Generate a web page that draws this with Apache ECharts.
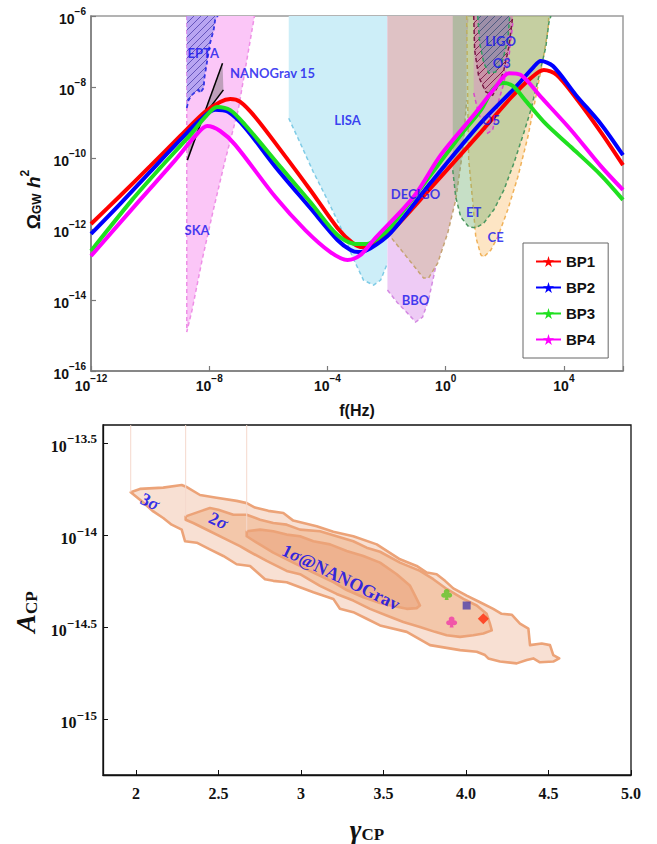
<!DOCTYPE html>
<html>
<head>
<meta charset="utf-8">
<title>GW spectra of BP1-BP4 and NANOGrav posterior</title>
<script src="https://cdn.jsdelivr.net/npm/echarts@6.0.0/dist/echarts.min.js"></script>
<style>
  html, body { margin: 0; padding: 0; background: #fff; }
  #chart { width: 657px; height: 844px; }
</style>
</head>
<body>
<div id="chart"></div>
<script>
// ---------- upper panel: log10(f / Hz) vs log10(Omega_GW h^2) ----------
const bp1LogF = [-12, -11.02, -10.0, -8.98, -8.14, -7.63, -7.29, -6.95, -6.44, -5.59, -4.58, -3.66, -3.15, -2.81, -2.47, -1.86, -0.51, 1.19, 2.20, 2.88, 3.32, 3.76, 4.41, 5.25, 6]
const bp1LogOmega = [-11.86, -11.07, -10.23, -9.38, -8.70, -8.42, -8.34, -8.42, -8.85, -9.77, -10.90, -11.97, -12.39, -12.51, -12.45, -12.08, -10.85, -9.27, -8.31, -7.75, -7.52, -7.66, -8.31, -9.27, -10.20]

const bp2LogF = [-12, -11.02, -10.0, -8.98, -8.31, -7.80, -7.36, -6.78, -5.76, -4.58, -3.66, -3.22, -2.95, -2.54, -1.86, -0.51, 1.19, 2.37, 2.95, 3.22, 3.63, 4.41, 5.25, 6]
const bp2LogOmega = [-12.14, -11.30, -10.39, -9.49, -8.93, -8.64, -8.70, -9.15, -10.25, -11.41, -12.31, -12.59, -12.65, -12.54, -12.11, -10.70, -9.01, -8.0, -7.46, -7.27, -7.41, -8.23, -9.04, -9.92]

const bp3LogF = [-12, -10.61, -9.66, -8.64, -8.14, -7.73, -7.29, -6.78, -5.59, -4.58, -3.66, -3.05, -2.68, -2.27, -1.86, -0.51, 0.51, 1.19, 1.59, 1.93, 2.27, 2.71, 3.39, 4.24, 5.25, 6]
const bp3LogOmega = [-12.62, -11.18, -10.28, -9.35, -8.85, -8.56, -8.65, -9.07, -10.25, -11.24, -12.17, -12.42, -12.42, -12.25, -11.94, -10.48, -9.35, -8.65, -8.08, -7.89, -7.97, -8.39, -9.04, -9.69, -10.48, -11.18]

const bp4LogF = [-12, -10.34, -9.15, -8.47, -8.07, -7.63, -7.12, -5.76, -4.75, -3.90, -3.32, -2.88, -2.44, -1.09, -0.17, 0.95, 1.69, 2.14, 2.54, 3.22, 4.24, 5.25, 6]
const bp4LogOmega = [-12.76, -11.18, -10.06, -9.38, -9.10, -9.24, -9.63, -11.10, -12.03, -12.65, -12.87, -12.73, -12.31, -11.10, -9.92, -8.79, -8.0, -7.61, -7.66, -8.28, -9.21, -10.23, -10.90]

// detector / PTA sensitivity regions, [log10 f, log10 Omega] vertices
const skaRegion = [[-8.76, -6], [-8.76, -14.9], [-8.58, -14.28], [-8.24, -12.87], [-7.86, -11.46], [-7.46, -10.06], [-7.02, -8.65], [-6.47, -6]]
const eptaRegion = [[-8.76, -6], [-8.76, -8.59], [-8.70, -8.37], [-8.59, -8.23], [-8.47, -8.14], [-8.36, -8.08], [-8.31, -8.17], [-8.19, -8.03], [-8.16, -7.72], [-8.08, -7.32], [-7.97, -6.76], [-7.85, -6.39], [-7.80, -6.11], [-7.71, -6]]
const nanogravLineA = [[-8.74, -10.06], [-7.55, -7.33]]
const nanogravLineB = [[-8.70, -9.38], [-7.52, -8.08]]
const lisaRegion = [[-5.31, -6], [-5.31, -8.88], [-4.92, -9.58], [-4.48, -10.39], [-4.0, -11.18], [-3.56, -11.94], [-3.15, -12.79], [-2.78, -13.44], [-2.44, -13.58], [-2.20, -13.44], [-1.97, -12.96], [-1.97, -6]]
const bboRegion = [[-1.97, -6], [-1.97, -13.72], [-1.63, -14.08], [-1.29, -14.37], [-1.02, -14.62], [-0.78, -14.48], [-0.58, -14.0], [-0.41, -13.35], [-0.17, -12.39], [0.07, -11.66], [0.27, -10.48], [0.51, -9.21], [0.75, -6]]
const decigoRegion = [[-1.97, -6], [-1.97, -12.11], [-1.42, -12.68], [-0.75, -13.38], [-0.58, -13.38], [-0.27, -12.96], [0.07, -12.11], [0.34, -11.18], [0.58, -9.77], [0.71, -8.37], [0.71, -6]]
const ceRegion = [[0.71, -6], [0.75, -8.65], [0.78, -10.06], [0.92, -11.27], [1.02, -12.23], [1.19, -12.73], [1.29, -12.79], [1.53, -12.59], [1.76, -12.23], [2.10, -11.46], [2.44, -10.54], [2.78, -9.41], [3.05, -8.28], [3.29, -7.24], [3.46, -6.39], [3.49, -6]]
const etRegion = [[0.24, -6], [0.24, -10.34], [0.34, -11.10], [0.51, -11.66], [0.78, -11.94], [1.02, -11.97], [1.29, -11.83], [1.63, -11.46], [1.97, -10.90], [2.31, -10.14], [2.64, -9.30], [2.88, -8.65], [3.15, -7.72], [3.39, -6.87], [3.49, -6.20], [3.56, -6]]
const ligoO5Region = [[0.95, -6], [0.95, -8.17], [1.085, -8.65], [1.25, -9.07], [1.42, -9.30], [1.59, -9.21], [1.69, -8.85], [1.80, -8.37], [1.97, -7.89], [2.14, -7.15], [2.27, -6.2], [2.27, -6]]
const ligoO3Region = [[0.95, -6], [0.98, -6.96], [1.12, -7.72], [1.36, -8.14], [1.59, -8.23], [1.80, -7.94], [1.97, -7.52], [2.14, -6.87], [2.24, -6.2], [2.27, -6]]
const ligoInnerRegion = [[1.085, -6], [1.15, -6.76], [1.29, -7.32], [1.46, -7.61], [1.69, -7.58], [1.93, -7.24], [2.10, -6.68], [2.17, -6]]

const detectorNames = ['EPTA', 'NANOGrav 15', 'SKA', 'LISA', 'DECIGO', 'BBO', 'ET', 'CE', 'LIGO', 'O3', 'O5']
const detectorLabelF = [-8.20, -5.86, -8.41, -3.32, -1.02, -1.02, 0.95, 1.69, 1.86, 1.90, 1.53]
const detectorLabelOmega = [-7.04, -7.61, -12.03, -8.93, -11.01, -14.0, -11.52, -12.23, -6.70, -7.32, -8.93]

// ---------- lower panel: gamma_CP vs log10(A_CP) ----------
const sigma3Region = [[1.968, -13.765], [2.024, -13.747], [2.165, -13.740], [2.277, -13.726], [2.303, -13.735], [2.388, -13.780], [2.479, -13.794], [2.610, -13.812], [2.671, -13.824], [2.721, -13.848], [2.802, -13.866], [2.893, -13.878], [2.953, -13.919], [3.095, -13.950], [3.196, -13.980], [3.317, -14.004], [3.459, -14.048], [3.600, -14.129], [3.701, -14.165], [3.762, -14.201], [3.822, -14.210], [3.873, -14.246], [3.923, -14.287], [4.004, -14.326], [4.085, -14.362], [4.165, -14.398], [4.216, -14.425], [4.277, -14.430], [4.327, -14.478], [4.378, -14.505], [4.388, -14.595], [4.459, -14.586], [4.509, -14.595], [4.529, -14.649], [4.565, -14.667], [4.529, -14.684], [4.448, -14.688], [4.408, -14.667], [4.368, -14.676], [4.307, -14.694], [4.206, -14.684], [4.135, -14.667], [4.115, -14.649], [4.065, -14.631], [3.964, -14.622], [3.782, -14.595], [3.641, -14.523], [3.479, -14.488], [3.398, -14.452], [3.317, -14.416], [3.236, -14.398], [3.196, -14.344], [3.075, -14.308], [2.994, -14.281], [2.913, -14.254], [2.832, -14.246], [2.782, -14.237], [2.691, -14.165], [2.610, -14.156], [2.529, -14.111], [2.448, -14.075], [2.368, -14.039], [2.297, -14.031], [2.277, -13.968], [2.216, -13.941], [2.165, -13.905], [2.105, -13.869], [2.024, -13.806]]
const sigma2Region = [[2.301, -13.896], [2.388, -13.869], [2.448, -13.851], [2.499, -13.860], [2.590, -13.887], [2.671, -13.887], [2.752, -13.914], [2.832, -13.932], [2.913, -13.941], [2.994, -13.968], [3.115, -13.977], [3.216, -14.004], [3.317, -14.031], [3.398, -14.066], [3.479, -14.088], [3.600, -14.147], [3.721, -14.192], [3.802, -14.237], [3.883, -14.290], [3.984, -14.344], [4.065, -14.380], [4.125, -14.425], [4.145, -14.478], [4.156, -14.515], [4.105, -14.532], [4.044, -14.541], [3.964, -14.550], [3.883, -14.541], [3.812, -14.523], [3.721, -14.496], [3.620, -14.469], [3.519, -14.434], [3.418, -14.398], [3.317, -14.353], [3.216, -14.317], [3.115, -14.273], [2.994, -14.210], [2.913, -14.192], [2.792, -14.138], [2.681, -14.084], [2.630, -14.058], [2.550, -14.022], [2.448, -13.977], [2.347, -13.932], [2.301, -13.914]]
const sigma1Region = [[2.671, -13.977], [2.752, -13.968], [2.832, -13.977], [2.913, -13.995], [2.994, -14.004], [3.075, -14.031], [3.176, -14.048], [3.277, -14.084], [3.378, -14.111], [3.479, -14.147], [3.580, -14.210], [3.661, -14.273], [3.691, -14.326], [3.721, -14.380], [3.701, -14.394], [3.641, -14.398], [3.559, -14.383], [3.479, -14.366], [3.378, -14.335], [3.277, -14.296], [3.196, -14.253], [3.075, -14.201], [2.953, -14.147], [2.832, -14.093], [2.732, -14.039], [2.671, -14.004]]
// faint vertical guides where each contour starts
const guideGamma = [1.968, 2.301, 2.671]
const guideLogAEnd = [-13.765, -13.896, -13.977]

const bpNames = ['BP1', 'BP2', 'BP3', 'BP4']
const bpGamma = [4.105, 4.004, 3.883, 3.913]
const bpLogA = [-14.452, -14.380, -14.320, -14.470]

const bottomXTicks = [2, 2.5, 3, 3.5, 4, 4.5, 5]
const bottomXTickText = ['2', '2.5', '3', '3.5', '4.0', '4.5', '5.0']
const bottomYTicks = [-15, -14.5, -14, -13.5]

const sigmaLabelText = ['{n|3}{s|σ}', '{n|2}{s|σ}', '{n|1}{s|σ}{n|@NANOGrav}']
const sigmaLabelGamma = [2.085, 2.499, 3.242]
const sigmaLabelLogA = [-13.816, -13.919, -14.226]

const SANS = 'Liberation Sans, Arial, sans-serif'
const SERIF = 'Liberation Serif, Times New Roman, serif'
const STAR = 'path://M50 0 L61 35 L98 35 L68 57 L79 91 L50 70 L21 91 L32 57 L2 35 L39 35 Z'
// club suit: three overlapping lobes and a flared stem
const CLUB = 'path://M30 28 C30 17 39 8 50 8 C61 8 70 17 70 28 C70 39 61 48 50 48 C39 48 30 39 30 28 Z '
  + 'M12 58 C12 47 21 38 32 38 C43 38 52 47 52 58 C52 69 43 78 32 78 C21 78 12 69 12 58 Z '
  + 'M48 58 C48 47 57 38 68 38 C79 38 88 47 88 58 C88 69 79 78 68 78 C57 78 48 69 48 58 Z '
  + 'M45 52 L55 52 L64 96 L36 96 Z'

function zip(a, b) {
  return a.map((v, i) => [v, b[i]])
}

function hatch(bg, line) {
  const c = document.createElement('canvas')
  c.width = 7
  c.height = 7
  const g = c.getContext('2d')
  g.fillStyle = bg
  g.fillRect(0, 0, 7, 7)
  g.strokeStyle = line
  g.lineWidth = 0.9
  g.beginPath()
  g.moveTo(0, 7); g.lineTo(7, 0)
  g.moveTo(-1, 1); g.lineTo(1, -1)
  g.moveTo(6, 8); g.lineTo(8, 6)
  g.stroke()
  return { image: c, repeat: 'repeat', imageWidth: 7, imageHeight: 7 }
}

// one filled region; dashed outline along pts[from..to) unless closed
function area(pts, st, gi) {
  gi = gi || 0
  return {
    type: 'custom',
    xAxisIndex: gi,
    yAxisIndex: gi,
    silent: true,
    clip: true,
    data: [pts[0]],
    renderItem: function (params, api) {
      const p = pts.map(v => api.coord(v))
      const kids = [{
        type: 'polygon',
        shape: { points: p },
        style: { fill: st.fill, stroke: st.closed ? st.stroke : null, lineWidth: st.width || 1.5, lineJoin: 'round' },
      }]
      if (st.stroke && !st.closed) {
        kids.push({
          type: 'polyline',
          shape: { points: p.slice(st.from || 0, st.to == null ? p.length : st.to) },
          style: { fill: 'none', stroke: st.stroke, lineWidth: st.width || 1.5, lineDash: [4, 3] },
        })
      }
      return { type: 'group', children: kids }
    },
  }
}

function pow10(v) {
  const e = (v < 0 ? '−' : '') + Math.abs(v)
  return '{b|10}{e|' + e + '}'
}

function richPow(font, big, small) {
  return {
    b: { fontFamily: font, fontWeight: 'bold', fontSize: big, color: '#111', lineHeight: big + 6, verticalAlign: 'bottom' },
    e: { fontFamily: font, fontWeight: 'bold', fontSize: small, color: '#111', lineHeight: small + 2, verticalAlign: 'top' },
  }
}

const bpColors = ['#ff0000', '#0000ff', '#1fe01f', '#ff00ff']
const bpData = [zip(bp1LogF, bp1LogOmega), zip(bp2LogF, bp2LogOmega), zip(bp3LogF, bp3LogOmega), zip(bp4LogF, bp4LogOmega)]

const series = [
  area(skaRegion, { fill: '#fbc6f7', stroke: '#ee90e6' }),
  area(eptaRegion, { fill: hatch('#b8a5f2', '#5b4cb5'), stroke: '#3535e6', from: 1, width: 1.8 }),
  {
    type: 'custom',
    silent: true,
    clip: true,
    data: [nanogravLineA[0]],
    renderItem: function (params, api) {
      const a = nanogravLineA.map(v => api.coord(v))
      const b = nanogravLineB.map(v => api.coord(v))
      return {
        type: 'group',
        children: [
          { type: 'polygon', shape: { points: [a[0], a[1], b[1], b[0]] }, style: { fill: 'rgba(105,105,105,0.42)' } },
          { type: 'polyline', shape: { points: a }, style: { fill: 'none', stroke: '#000', lineWidth: 1.5 } },
          { type: 'polyline', shape: { points: b }, style: { fill: 'none', stroke: '#000', lineWidth: 1.5 } },
        ],
      }
    },
  },
  area(lisaRegion, { fill: '#cdeef8', stroke: '#7fcbe6', from: 1, to: lisaRegion.length - 1 }),
  area(bboRegion, { fill: '#eecbf5', stroke: '#d48ae2', from: 1 }),
  area(decigoRegion, { fill: '#dfc2c5', stroke: '#c6a373', from: 1, to: decigoRegion.length - 1 }),
  area(ceRegion, { fill: 'rgba(252,203,138,0.5)', stroke: '#f0b25a' }),
  area(etRegion, { fill: 'rgba(105,172,105,0.38)', stroke: '#4c9860', from: 1 }),
  area(ligoO5Region, { fill: 'rgba(222,138,205,0.45)', stroke: '#d848cc', from: 1, to: ligoO5Region.length - 1 }),
  area(ligoO3Region, { fill: hatch('rgba(196,112,150,0.45)', '#7a1845'), stroke: '#7a1845' }),
  area(ligoInnerRegion, { fill: hatch('rgba(120,138,172,0.55)', '#4a5a80'), stroke: '#2f9e62' }),
]

bpNames.forEach((name, i) => {
  series.push({
    name: name,
    type: 'line',
    data: bpData[i],
    smooth: 0.3,
    symbol: STAR,
    symbolSize: 10,
    showSymbol: false,
    lineStyle: { color: bpColors[i], width: 4 },
    itemStyle: { color: bpColors[i] },
    silent: true,
    z: 3,
  })
})

series.push({
  type: 'scatter',
  symbolSize: 0.1,
  silent: true,
  z: 4,
  itemStyle: { color: 'transparent' },
  label: {
    show: true,
    position: 'inside',
    formatter: '{b}',
    color: '#1212ee',
    fontFamily: 'Lato, Open Sans, sans-serif',
    fontWeight: 'bold',
    fontSize: 13,
  },
  data: detectorNames.map((n, i) => ({ name: n, value: [detectorLabelF[i], detectorLabelOmega[i]] })),
})

// lower panel
guideGamma.forEach((g, i) => {
  series.push({
    type: 'line',
    xAxisIndex: 1,
    yAxisIndex: 1,
    silent: true,
    symbol: 'none',
    lineStyle: { color: '#f5d8cc', width: 1 },
    data: [[g, -13.4], [g, guideLogAEnd[i]]],
  })
})
series.push(area(sigma3Region, { fill: '#f8e0d3', stroke: '#eca378', closed: true, width: 2.6 }, 1))
series.push(area(sigma2Region, { fill: '#f3c7aa', stroke: '#eca378', closed: true, width: 2.6 }, 1))
series.push(area(sigma1Region, { fill: '#eeb28f', stroke: '#eca378', closed: true, width: 2.6 }, 1))

const bpMarkers = [
  { symbol: 'diamond', size: 11, color: '#ff2a0a' },
  { symbol: 'rect', size: 8, color: 'rgba(50,40,170,0.85)' },
  { symbol: CLUB, size: 11, color: '#5fc425' },
  { symbol: CLUB, size: 11, color: '#f03aa8' },
]
bpNames.forEach((name, i) => {
  series.push({
    type: 'scatter',
    xAxisIndex: 1,
    yAxisIndex: 1,
    silent: true,
    z: 5,
    symbol: bpMarkers[i].symbol,
    symbolSize: bpMarkers[i].size,
    itemStyle: { color: bpMarkers[i].color },
    data: [[bpGamma[i], bpLogA[i]]],
  })
})

series.push({
  type: 'scatter',
  xAxisIndex: 1,
  yAxisIndex: 1,
  symbolSize: 0.1,
  silent: true,
  z: 6,
  itemStyle: { color: 'transparent' },
  label: {
    show: true,
    position: 'inside',
    rotate: -26,
    formatter: '{b}',
    rich: {
      n: { fontFamily: SERIF, fontWeight: 'bold', fontSize: 18, color: '#0000ee' },
      s: { fontFamily: SERIF, fontWeight: 'bold', fontStyle: 'italic', fontSize: 18, color: '#0000ee' },
    },
  },
  data: sigmaLabelText.map((t, i) => ({ name: t, value: [sigmaLabelGamma[i], sigmaLabelLogA[i]] })),
})

const chart = echarts.init(document.getElementById('chart'), null, { renderer: 'svg' })

chart.setOption({
  animation: false,
  backgroundColor: '#fff',
  grid: [
    { left: 91, top: 16, width: 532, height: 355, show: true, borderColor: '#9a9a9a', borderWidth: 1.5, backgroundColor: 'transparent' },
    { left: 103, top: 425, width: 528, height: 352, show: true, borderColor: '#111', borderWidth: 1.3, backgroundColor: 'transparent' },
  ],
  legend: {
    data: bpNames,
    orient: 'vertical',
    left: 523,
    top: 243,
    padding: [11, 13, 11, 12],
    itemGap: 11,
    itemWidth: 25,
    itemHeight: 14,
    borderColor: '#666',
    borderWidth: 1,
    backgroundColor: '#fff',
    selectedMode: false,
    textStyle: { fontFamily: SANS, fontSize: 15, fontWeight: 'bold', color: '#111' },
  },
  xAxis: [
    {
      type: 'value',
      gridIndex: 0,
      min: -12,
      max: 6,
      interval: 4,
      name: 'f(Hz)',
      nameLocation: 'middle',
      nameGap: 31,
      nameTextStyle: { fontFamily: SANS, fontWeight: 'bold', fontSize: 16, color: '#111' },
      axisLine: { onZero: false, lineStyle: { color: '#7a7a7a', width: 1.5 } },
      axisTick: { inside: true, length: 5, lineStyle: { color: '#7a7a7a', width: 1.2 } },
      splitLine: { show: false },
      axisLabel: {
        margin: 2,
        formatter: v => (v % 4 === 0 ? pow10(v) : ''),
        rich: richPow(SANS, 14, 10),
      },
    },
    {
      type: 'value',
      gridIndex: 1,
      min: 1.8,
      max: 5.0,
      name: '{g|γ}{c|CP}',
      nameLocation: 'middle',
      nameGap: 40,
      nameTextStyle: {
        rich: {
          g: { fontFamily: SERIF, fontStyle: 'italic', fontWeight: 'bold', fontSize: 28, color: '#111' },
          c: { fontFamily: SERIF, fontWeight: 'bold', fontSize: 17, color: '#111', verticalAlign: 'bottom', lineHeight: 26 },
        },
      },
      axisLine: { onZero: false, lineStyle: { color: '#111', width: 1.3 } },
      axisTick: { inside: true, length: 5, customValues: bottomXTicks, lineStyle: { color: '#111' } },
      splitLine: { show: false },
      axisLabel: {
        margin: 10,
        customValues: bottomXTicks,
        fontFamily: SERIF,
        fontWeight: 'bold',
        fontSize: 16,
        color: '#111',
        formatter: v => {
          const k = bottomXTicks.findIndex(t => Math.abs(t - v) < 1e-6)
          return k >= 0 ? bottomXTickText[k] : ''
        },
      },
    },
  ],
  yAxis: [
    {
      type: 'value',
      gridIndex: 0,
      min: -16,
      max: -6,
      interval: 2,
      name: '{o|Ω}{g|GW}{h| h}{t|2}',
      nameLocation: 'middle',
      nameGap: 44,
      nameTextStyle: {
        padding: [0, 12, 0, 0],
        rich: {
          o: { fontFamily: SANS, fontWeight: 'bold', fontSize: 19, color: '#111', lineHeight: 24, verticalAlign: 'bottom' },
          g: { fontFamily: SANS, fontWeight: 'bold', fontSize: 12, color: '#111', lineHeight: 18, verticalAlign: 'bottom' },
          h: { fontFamily: SANS, fontWeight: 'bold', fontStyle: 'italic', fontSize: 19, color: '#111', lineHeight: 24, verticalAlign: 'bottom' },
          t: { fontFamily: SANS, fontWeight: 'bold', fontSize: 12, color: '#111', lineHeight: 14, verticalAlign: 'top' },
        },
      },
      axisLine: { onZero: false, lineStyle: { color: '#7a7a7a', width: 1.5 } },
      axisTick: { inside: true, length: 5, lineStyle: { color: '#7a7a7a', width: 1.2 } },
      splitLine: { show: false },
      axisLabel: {
        margin: 5,
        formatter: v => (v % 2 === 0 ? pow10(v) : ''),
        rich: richPow(SANS, 14, 10),
      },
    },
    {
      type: 'value',
      gridIndex: 1,
      min: -15.3,
      max: -13.4,
      name: '{a|A}{c|CP}',
      nameLocation: 'middle',
      nameGap: 62,
      nameTextStyle: {
        padding: [0, 24, 0, 0],
        rich: {
          a: { fontFamily: SERIF, fontStyle: 'italic', fontWeight: 'bold', fontSize: 28, color: '#111', lineHeight: 30, verticalAlign: 'bottom' },
          c: { fontFamily: SERIF, fontWeight: 'bold', fontSize: 17, color: '#111', lineHeight: 22, verticalAlign: 'bottom' },
        },
      },
      axisLine: { onZero: false, lineStyle: { color: '#111', width: 1.3 } },
      axisTick: { inside: true, length: 5, customValues: bottomYTicks, lineStyle: { color: '#111' } },
      splitLine: { show: false },
      axisLabel: {
        margin: 6,
        customValues: bottomYTicks,
        formatter: v => pow10(v),
        rich: richPow(SERIF, 16, 13),
      },
    },
  ],
  series: series,
})
</script>
</body>
</html>
